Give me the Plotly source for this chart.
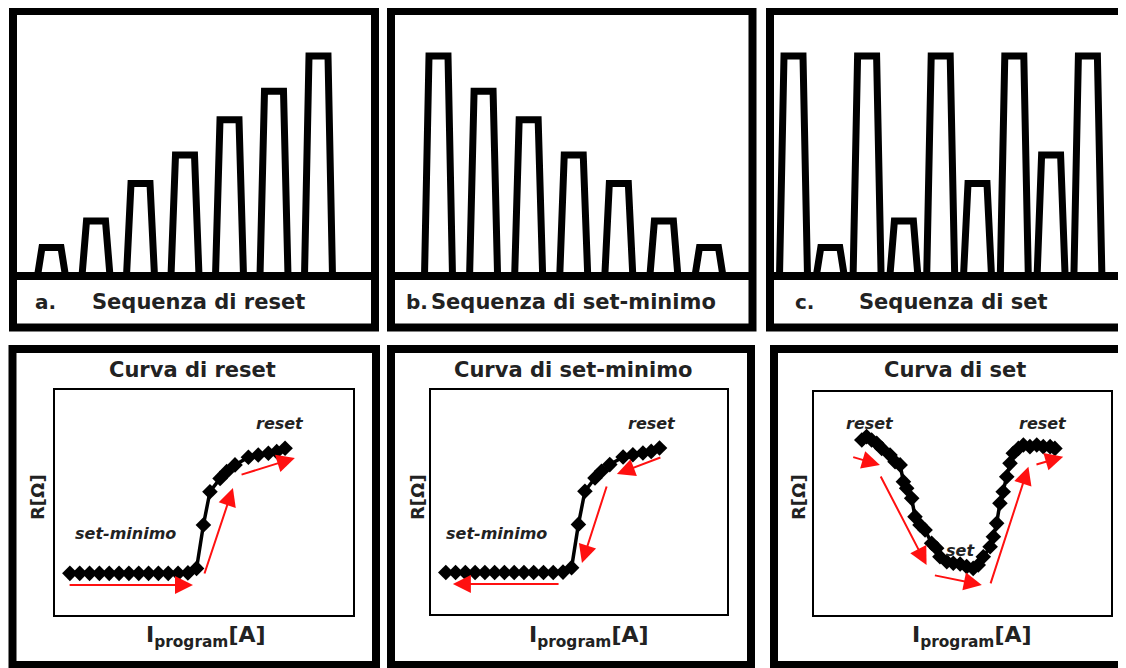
import plotly.graph_objects as go

W, H = 1126, 668

# ---------------- data ----------------
# pulse amplitudes (relative) of the three programming sequences
pulse_reset = [0.13, 0.25, 0.42, 0.55, 0.71, 0.84, 1.00]
pulse_setmin = [1.00, 0.84, 0.71, 0.55, 0.42, 0.25, 0.13]
pulse_set = [1.00, 0.13, 1.00, 0.25, 1.00, 0.42, 1.00, 0.55, 1.00]

seq_letters = ["a.", "b.", "c."]
seq_titles = ["Sequenza di reset", "Sequenza di set-minimo", "Sequenza di set"]
curve_titles = ["Curva di reset", "Curva di set-minimo", "Curva di set"]

# R vs I_program curve for reset / set-minimo (arbitrary units 0-100)
reset_curve_x = [5.0, 8.3, 11.6, 14.9, 18.2, 21.5, 24.8, 28.1, 31.4, 34.7, 38.0, 41.3, 44.6,
                 47.5, 49.8, 52.0, 55.4, 57.6, 60.4, 64.9, 68.2, 71.6, 74.4, 77.2]
reset_curve_y = [18.5, 18.5, 18.5, 18.5, 18.5, 18.5, 18.5, 18.5, 18.5, 18.5, 18.5, 18.5, 18.7,
                 20.7, 40.0, 54.8, 60.7, 63.7, 66.7, 70.1, 71.1, 71.9, 72.6, 74.1]

# R vs I_program curve for set
set_curve_x = [16.1, 17.7, 19.4, 21.1, 22.8, 25.6, 27.3, 29.0, 30.1, 31.2, 32.9, 34.0, 35.7,
               37.4, 39.6, 41.3, 42.4, 44.7, 46.9, 49.2, 51.4, 53.6, 55.3, 57.0, 59.3, 60.4,
               61.5, 62.6, 63.7, 64.9, 66.0, 67.1, 68.8, 70.5, 72.7, 75.0, 77.2, 79.5, 81.1]
set_curve_y = [78.5, 80.0, 78.5, 77.0, 74.7, 71.7, 68.7, 67.3, 59.8, 56.8, 52.3, 44.1, 40.4,
               38.1, 32.2, 29.9, 26.1, 23.9, 23.2, 22.9, 21.7, 20.9, 22.4, 26.1, 30.6, 35.1,
               41.1, 50.1, 55.3, 62.0, 68.0, 72.5, 74.7, 76.2, 75.5, 76.2, 75.5, 75.5, 74.7]

# red direction arrows: (tail_x, tail_y, head_x, head_y)
arrows_reset = [(4.4, 13.3, 46.3, 13.3), (50.0, 17.8, 59.7, 56.4), (62.1, 62.2, 80.5, 69.8)]
arrows_setmin = [(78.0, 70.1, 62.8, 62.5), (59.5, 57.6, 51.0, 22.8), (43.6, 13.4, 7.4, 13.4)]
arrows_set = [(12.7, 71.0, 22.2, 67.3), (22.2, 62.8, 37.9, 22.4), (40.2, 17.9, 56.5, 13.5),
              (59.3, 13.5, 72.2, 66.5), (74.4, 67.3, 83.9, 71.0)]

# state labels on the curves: (text, x, y)
labels_reset = [("reset", 75.5, 85.2), ("set-minimo", 23.5, 36.3)]
labels_setmin = [("reset", 74.6, 85.1), ("set-minimo", 22.2, 36.0)]
labels_set = [("reset", 18.9, 86.0), ("set", 49.2, 29.1), ("reset", 77.2, 86.0)]

x_label = "I<sub>program</sub>[A]"
y_label = "R[Ω]"

# ---------------- layout geometry (page pixels) ----------------
FONT = "DejaVu Sans"
OFF = 8  # default page margin of the html body
FRAME_W = 8
TOP_BOX = [(13, 375), (391, 752.5), (770, 1131)]
TOP_Y0, TOP_Y1, DIVIDER = 11, 327.5, 276
BOT_BOX = [(12.5, 376), (391, 751), (774, 1131)]
BOT_Y0, BOT_Y1 = 349, 665
INNER = [(55, 353, 390, 615), (431, 727, 390, 614), (814, 1111, 392, 615)]
PULSE_C0 = [51.5, 438.5, 793.5]
PULSE_SP = [44.5, 45.08, 36.8]
AMP_PX = 220
TOP_HALF_PX, BASE_HALF_PX = 9.5, 14.0
LETTER_X = [33, 404, 793]
TITLE_X = [90, 429, 857]
CURVE_TITLE_X = [192, 573, 955]
XLAB_X = [206, 589, 972]
YLAB_X = [37, 417, 798]


def sx(px):
    return (px - OFF) / W


def sy(py):
    return 1 - (py - OFF) / H


def fx(px):
    return min(1.0, max(0.0, sx(px)))


def fy(py):
    return min(1.0, max(0.0, sy(py)))


fig = go.Figure()
layout = dict(
    width=W, height=H, margin=dict(l=0, r=0, t=0, b=0),
    paper_bgcolor="white", plot_bgcolor="rgba(0,0,0,0)", showlegend=False,
)
shapes = []
annotations = []

# ---------------- top row: pulse sequences ----------------
sequences = [pulse_reset, pulse_setmin, pulse_set]
for k in range(3):
    n = k + 1
    xa = "xaxis" if n == 1 else f"xaxis{n}"
    ya = "yaxis" if n == 1 else f"yaxis{n}"
    xr = "x" if n == 1 else f"x{n}"
    yr = "y" if n == 1 else f"y{n}"
    xl, xrr = TOP_BOX[k]
    px0, px1 = xl + FRAME_W / 2, min(W + OFF, xrr - FRAME_W / 2)
    py_top, py_bot = TOP_Y0 + FRAME_W / 2, DIVIDER + 20
    c0, sp = PULSE_C0[k], PULSE_SP[k]
    layout[xa] = dict(domain=[fx(px0), fx(px1)], range=[(px0 - c0) / sp, (px1 - c0) / sp],
                      visible=False, anchor=yr)
    layout[ya] = dict(domain=[fy(py_bot), fy(py_top)],
                      range=[(DIVIDER - py_bot) / AMP_PX, (DIVIDER - py_top) / AMP_PX],
                      visible=False, anchor=xr)
    ht, hb = TOP_HALF_PX / sp, BASE_HALF_PX / sp
    amps = sequences[k]
    xs, ys = [-50], [0]
    for i, a in enumerate(amps):
        xs += [i - hb, i - ht, i + ht, i + hb]
        ys += [0, a, a, 0]
    xs.append(50)
    ys.append(0)
    fig.add_trace(go.Scatter(x=xs, y=ys, mode="lines", xaxis=xr, yaxis=yr,
                             line=dict(color="black", width=7), hoverinfo="skip"))
    # frame + divider
    shapes.append(dict(type="rect", xref="paper", yref="paper",
                       x0=sx(xl), x1=sx(xrr), y0=sy(TOP_Y1), y1=sy(TOP_Y0),
                       line=dict(color="black", width=FRAME_W)))
    shapes.append(dict(type="line", xref="paper", yref="paper",
                       x0=sx(xl), x1=sx(xrr), y0=sy(DIVIDER), y1=sy(DIVIDER),
                       line=dict(color="black", width=FRAME_W)))
    annotations.append(dict(text=seq_letters[k], xref="paper", yref="paper",
                            x=fx(LETTER_X[k]), y=fy(302), xanchor="left", yanchor="middle",
                            showarrow=False, font=dict(family=FONT, size=20, color="#222",
                                                       weight="bold")))
    annotations.append(dict(text=seq_titles[k], xref="paper", yref="paper",
                            x=fx(TITLE_X[k]), y=fy(302), xanchor="left", yanchor="middle",
                            showarrow=False, font=dict(family=FONT, size=21, color="#222",
                                                       weight="bold")))

# ---------------- bottom row: R vs I curves ----------------
curves = [(reset_curve_x, reset_curve_y), (reset_curve_x, reset_curve_y), (set_curve_x, set_curve_y)]
arrow_sets = [arrows_reset, arrows_setmin, arrows_set]
label_sets = [labels_reset, labels_setmin, labels_set]
for k in range(3):
    n = k + 4
    xa, ya = f"xaxis{n}", f"yaxis{n}"
    xr, yr = f"x{n}", f"y{n}"
    ix0, ix1, iy0, iy1 = INNER[k]
    ax_style = dict(showline=True, mirror=True, linecolor="black", linewidth=2,
                    showgrid=False, zeroline=False, showticklabels=False, ticks="",
                    range=[0, 100], fixedrange=True)
    layout[xa] = dict(domain=[fx(ix0), fx(ix1)], anchor=yr, **ax_style)
    layout[ya] = dict(domain=[fy(iy1), fy(iy0)], anchor=xr, **ax_style)
    cx, cy = curves[k]
    fig.add_trace(go.Scatter(x=cx, y=cy, mode="lines+markers", xaxis=xr, yaxis=yr,
                             line=dict(color="black", width=3.5),
                             marker=dict(symbol="diamond", size=12, color="black"),
                             hoverinfo="skip"))
    for (tx, ty, hx, hy) in arrow_sets[k]:
        annotations.append(dict(x=hx, y=hy, ax=tx, ay=ty, xref=xr, yref=yr, axref=xr, ayref=yr,
                                text="", showarrow=True, arrowhead=2, arrowsize=1.8,
                                arrowwidth=2, arrowcolor="#ff1010"))
    for (t, lx, ly) in label_sets[k]:
        annotations.append(dict(text=t, x=lx, y=ly, xref=xr, yref=yr, showarrow=False,
                                xanchor="center", yanchor="middle",
                                font=dict(family=FONT, size=16, color="#222", weight="bold",
                                          style="italic")))
    # outer frame
    bl, br = BOT_BOX[k]
    shapes.append(dict(type="rect", xref="paper", yref="paper",
                       x0=sx(bl), x1=sx(br), y0=sy(BOT_Y1), y1=sy(BOT_Y0),
                       line=dict(color="black", width=FRAME_W)))
    annotations.append(dict(text=curve_titles[k], xref="paper", yref="paper",
                            x=fx(CURVE_TITLE_X[k]), y=fy(370), xanchor="center", yanchor="middle",
                            showarrow=False, font=dict(family=FONT, size=21, color="#222",
                                                       weight="bold")))
    annotations.append(dict(text=x_label, xref="paper", yref="paper",
                            x=fx(XLAB_X[k]), y=fy(636), xanchor="center", yanchor="middle",
                            showarrow=False, font=dict(family=FONT, size=22, color="#222",
                                                       weight="bold")))
    annotations.append(dict(text=y_label, xref="paper", yref="paper", textangle=-90,
                            x=fx(YLAB_X[k]), y=fy(497), xanchor="center", yanchor="middle",
                            showarrow=False, font=dict(family=FONT, size=18, color="#222",
                                                       weight="bold")))

layout["shapes"] = shapes
layout["annotations"] = annotations
fig.update_layout(**layout)
fig.write_html("out.html")
